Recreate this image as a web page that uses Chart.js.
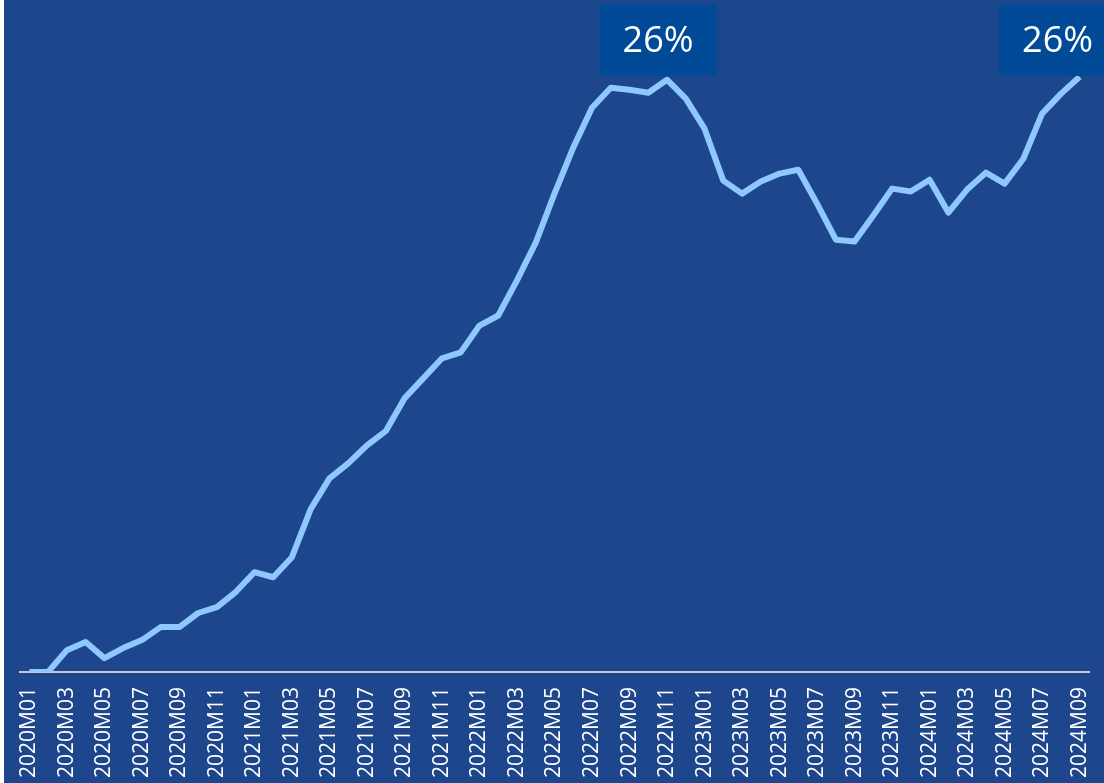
<!DOCTYPE html>
<html>
<head>
<meta charset="utf-8">
<script src="https://cdn.jsdelivr.net/npm/chart.js@4.4.1/dist/chart.umd.min.js"></script>
<style>
    html, body { margin: 0; padding: 0; background: #fff; }
    #wrap { width: 1104px; height: 783px; }
</style>
</head>
<body>
<div id="wrap"><canvas id="priceChart" width="1104" height="783"></canvas></div>
<script>
// monthly cumulative change, % (2020M01 = 0)
const months = [];
for (let y = 2020; y <= 2024; y++) {
    for (let m = 1; m <= 12; m++) {
        if (y === 2024 && m > 9) break;
        months.push(y + "M" + String(m).padStart(2, "0"));
    }
}
const values = [
    0.0, 0.0, 0.96, 1.32, 0.61, 1.05, 1.40, 1.97, 1.97, 2.59, 2.85, 3.51,
    4.38, 4.16, 5.04, 7.15, 8.50, 9.16, 9.95, 10.57, 12.01, 12.89, 13.77, 14.03,
    15.21, 15.65, 17.19, 18.85, 21.00, 23.02, 24.77, 25.65, 25.56, 25.43, 26.0, 25.17,
    23.85, 21.57, 21.00, 21.53, 21.88, 22.05, 20.56, 18.98, 18.90, 20.04, 21.22, 21.09,
    21.61, 20.17, 21.18, 21.92, 21.44, 22.53, 24.51, 25.38, 26.13
];
const calloutIndex = [34, 56];
const calloutText = ["26%", "26%"];

const bgColor = "#1E468C";
const lineColor = "#8EC8FF";
const boxColor = "#004A98";

const background = {
    id: "background",
    beforeDraw(chart) {
        let ctx = chart.ctx;
        ctx.save();
        ctx.fillStyle = "#ffffff";
        ctx.fillRect(0, 0, chart.width, chart.height);
        ctx.fillStyle = bgColor;
        ctx.fillRect(4, 0, chart.width - 4, chart.height);
        ctx.restore();
    }
};

const callouts = {
    id: "callouts",
    afterDatasetsDraw(chart) {
        let ctx = chart.ctx;
        let xs = chart.scales.x;
        ctx.save();
        ctx.font = "36px 'Open Sans'";
        ctx.textAlign = "center";
        ctx.textBaseline = "middle";
        calloutIndex.forEach((idx, i) => {
            let px = xs.getPixelForValue(idx);
            let tw = ctx.measureText(calloutText[i]).width;
            let cx = Math.min(px - 9, chart.width - 11 - tw / 2);
            ctx.fillStyle = boxColor;
            ctx.fillRect(cx - 58.5, 4, 117, 72);
            ctx.fillStyle = "#ffffff";
            ctx.fillText(calloutText[i], cx, 42);
        });
        ctx.restore();
    }
};

new Chart(document.getElementById("priceChart").getContext("2d"), {
    type: "line",
    data: {
        labels: months,
        datasets: [{
            data: values,
            borderColor: lineColor,
            borderWidth: 6,
            pointRadius: 0,
            tension: 0,
            borderJoinStyle: "round",
            fill: false
        }]
    },
    options: {
        responsive: false,
        animation: false,
        layout: { padding: { left: 20, right: 15, top: 0, bottom: 0 } },
        plugins: {
            legend: { display: false },
            tooltip: { enabled: false }
        },
        scales: {
            x: {
                offset: true,
                grid: { display: false, drawTicks: false },
                border: { display: true, color: "#C8C8C8", width: 2 },
                afterFit(scale) {
                    scale.height = 111;
                    scale.paddingLeft = 0;
                    scale.paddingRight = 0;
                },
                ticks: {
                    autoSkip: false,
                    maxRotation: 90,
                    minRotation: 90,
                    padding: 15,
                    color: "#ffffff",
                    font: { family: "'Open Sans'", size: 21 },
                    callback: function (val, i) {
                        return i % 2 === 0 ? months[i] : "";
                    }
                }
            },
            y: {
                display: false,
                min: 0,
                max: 29.5
            }
        }
    },
    plugins: [background, callouts]
});
</script>
</body>
</html>
